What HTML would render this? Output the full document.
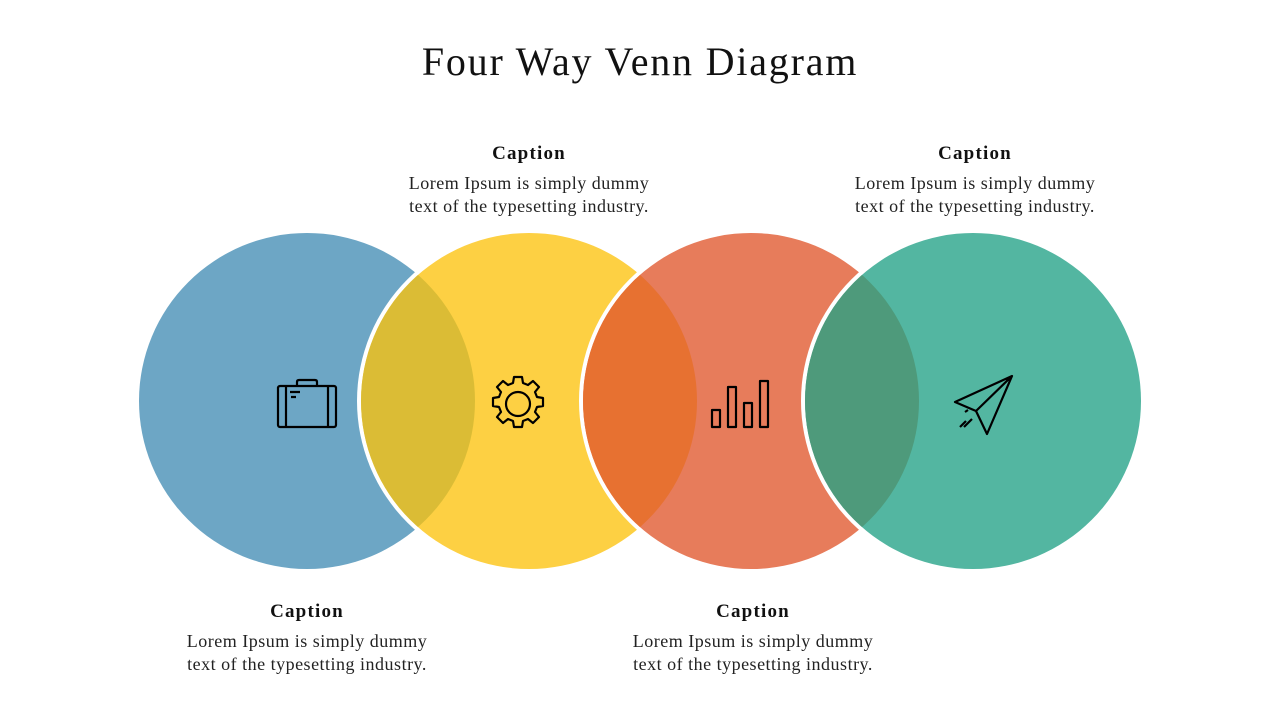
<!DOCTYPE html>
<html><head><meta charset="utf-8"><style>
body{margin:0;width:1280px;height:720px;background:#fff;overflow:hidden;position:relative;font-family:"Liberation Serif",serif;color:#111}
.t{position:absolute;text-align:center;width:300px}
.t b{display:block;font-size:19px;letter-spacing:1.2px;margin-bottom:7px}
.t span{font-size:18px;line-height:23px;color:#222;letter-spacing:0.5px}
h1{position:absolute;top:38px;left:0;width:1280px;text-align:center;margin:0;font-weight:normal;font-size:40px;letter-spacing:1.8px}
</style></head><body>
<h1>Four Way Venn Diagram</h1>
<svg width="1280" height="720" style="position:absolute;left:0;top:0">
<defs>
<clipPath id="cb"><circle cx="307" cy="401" r="168"/></clipPath>
<clipPath id="cy"><circle cx="529" cy="401" r="168"/></clipPath>
<clipPath id="co"><circle cx="751" cy="401" r="168"/></clipPath>
</defs>
<circle cx="307" cy="401" r="168" fill="#6DA6C5"/>
<circle cx="529" cy="401" r="172" fill="#fff"/>
<circle cx="529" cy="401" r="168" fill="#FDD043"/>
<circle cx="529" cy="401" r="168" fill="#DBBC35" clip-path="url(#cb)"/>
<circle cx="751" cy="401" r="172" fill="#fff"/>
<circle cx="751" cy="401" r="168" fill="#E77C5B"/>
<circle cx="751" cy="401" r="168" fill="#E77131" clip-path="url(#cy)"/>
<circle cx="973" cy="401" r="172" fill="#fff"/>
<circle cx="973" cy="401" r="168" fill="#53B6A1"/>
<circle cx="973" cy="401" r="168" fill="#4E9A7B" clip-path="url(#co)"/>
<g fill="none" stroke="#000" stroke-width="2.2" stroke-linejoin="round">
<rect x="278" y="386" width="58" height="41" rx="2"/>
<path d="M297 386v-4q0-2 2-2h16q2 0 2 2v4M286 386v41M328 386v41M290 392h10M291 397h5"/>
<circle cx="518" cy="404" r="12"/>
<path d="M514 377h8l1 6 5 2 5-4 6 6-4 5 2 5 6 1v8l-6 1-2 5 4 5-6 6-5-4-5 2-1 6h-8l-1-6-5-2-5 4-6-6 4-5-2-5-6-1v-8l6-1 2-5-4-5 6-6 5 4 5-2z"/>
<rect x="712" y="410" width="8" height="17"/><rect x="728" y="387" width="8" height="40"/><rect x="744" y="403" width="8" height="24"/><rect x="760" y="381" width="8" height="46"/>
<path d="M1012 376l-57 26 21 9 11 23zM1012 376l-36 35M966 421l-6 6M972 419l-8 8M965 412l3 -2"/>
</g>
</svg>
<div class="t" style="left:379px;top:143px"><b>Caption</b><span>Lorem Ipsum is simply dummy<br>text of the typesetting industry.</span></div>
<div class="t" style="left:825px;top:143px"><b>Caption</b><span>Lorem Ipsum is simply dummy<br>text of the typesetting industry.</span></div>
<div class="t" style="left:157px;top:601px"><b>Caption</b><span>Lorem Ipsum is simply dummy<br>text of the typesetting industry.</span></div>
<div class="t" style="left:603px;top:601px"><b>Caption</b><span>Lorem Ipsum is simply dummy<br>text of the typesetting industry.</span></div>
</body></html>
